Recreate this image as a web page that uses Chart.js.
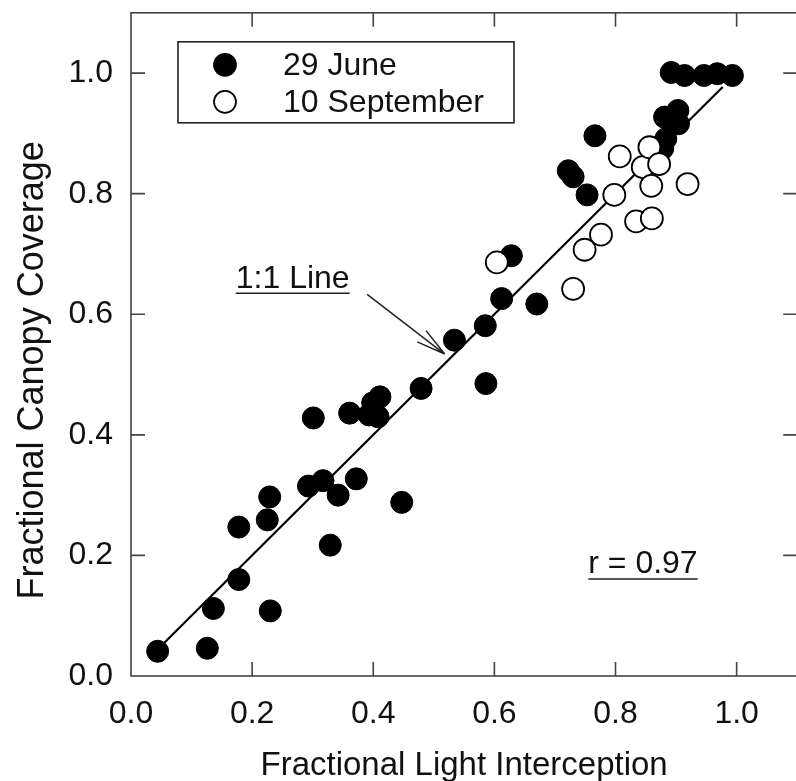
<!DOCTYPE html>
<html>
<head>
<meta charset="utf-8">
<style>
  html, body { margin: 0; padding: 0; background: #fff; overflow: hidden; }
  #wrap { width: 810px; height: 781px; }
</style>
<script src="https://cdn.jsdelivr.net/npm/chart.js@4/dist/chart.umd.min.js"></script>
</head>
<body>
<div id="wrap"><canvas id="chart" width="810" height="781"></canvas></div>
<script>
/* ===== Data ===== */
const juneX = [0.044, 0.126, 0.136, 0.230, 0.178, 0.178, 0.225, 0.229, 0.329, 0.293,
               0.317, 0.342, 0.372, 0.447, 0.301, 0.361, 0.393, 0.411, 0.399, 0.408,
               0.479, 0.586, 0.534, 0.585, 0.612, 0.670, 0.628, 0.722, 0.730, 0.753,
               0.766, 0.903, 0.881, 0.904, 0.883, 0.878, 0.892, 0.914, 0.946, 0.968, 0.993];
const juneY = [0.041, 0.046, 0.112, 0.108, 0.160, 0.247, 0.259, 0.297, 0.217, 0.315,
               0.324, 0.300, 0.327, 0.288, 0.428, 0.436, 0.433, 0.463, 0.453, 0.430,
               0.477, 0.485, 0.557, 0.581, 0.626, 0.617, 0.697, 0.838, 0.828, 0.798,
               0.896, 0.938, 0.927, 0.916, 0.891, 0.875, 1.001, 0.996, 0.996, 0.999, 0.996];

const septX = [0.604, 0.730, 0.749, 0.776, 0.798, 0.807, 0.834, 0.860, 0.845, 0.856, 0.872, 0.859, 0.919];
const septY = [0.686, 0.642, 0.707, 0.732, 0.798, 0.862, 0.754, 0.759, 0.844, 0.877, 0.849, 0.813, 0.816];

const lineX = [0.055, 0.977];   // 1:1 line ends
const tickVals = [0.0, 0.2, 0.4, 0.6, 0.8, 1.0];
const seriesNames = ['29 June', '10 September'];
const xTitle = 'Fractional Light Interception';
const yTitle = 'Fractional Canopy Coverage';

const FONT = "'Liberation Sans', Arial, sans-serif";
const INK = '#111';
const FRAME = '#444';

const toPts = (xs, ys) => xs.map((x, i) => ({ x, y: ys[i] }));

/* ===== Frame, inward ticks, legend, y title and notes ===== */
const decor = {
  id: 'decor',
  afterDatasetsDraw(chart) {
    const { ctx, chartArea: a, scales: { x, y } } = chart;
    ctx.save();

    // frame + ticks on all four sides, pointing inward
    ctx.strokeStyle = FRAME;
    ctx.lineWidth = 1.6;
    ctx.strokeRect(a.left, a.top, a.right - a.left, a.bottom - a.top);
    const tl = 14;
    ctx.beginPath();
    tickVals.forEach(v => {
      if (v === 0) return;
      const px = x.getPixelForValue(v);
      ctx.moveTo(px, a.bottom); ctx.lineTo(px, a.bottom - tl);
      ctx.moveTo(px, a.top); ctx.lineTo(px, a.top + tl);
      const py = y.getPixelForValue(v);
      ctx.moveTo(a.left, py); ctx.lineTo(a.left + tl, py);
      ctx.moveTo(a.right, py); ctx.lineTo(a.right - tl, py);
    });
    ctx.stroke();

    // legend
    const bx = a.left + 47, by = a.top + 29, bw = 336, bh = 81;
    ctx.strokeStyle = '#222';
    ctx.lineWidth = 1.6;
    ctx.strokeRect(bx, by, bw, bh);
    ctx.font = '32px ' + FONT;
    ctx.textBaseline = 'middle';
    ctx.textAlign = 'left';
    const rows = [by + 23, by + 60];
    chart.data.datasets.slice(0, 2).forEach((ds, i) => {
      ctx.beginPath();
      ctx.arc(bx + 47, rows[i], 11, 0, Math.PI * 2);
      ctx.fillStyle = ds.backgroundColor;
      ctx.fill();
      ctx.lineWidth = 1.8;
      ctx.strokeStyle = '#000';
      ctx.stroke();
      ctx.fillStyle = INK;
      ctx.fillText(seriesNames[i], bx + 105, rows[i] + 1);
    });

    // "1:1 Line" with arrow
    ctx.textBaseline = 'alphabetic';
    const lx = x.getPixelForValue(0.173), ly = y.getPixelForValue(0.643);
    ctx.fillText('1:1 Line', lx, ly);
    const lw = ctx.measureText('1:1 Line').width;
    ctx.lineWidth = 1.5;
    ctx.strokeStyle = '#222';
    ctx.beginPath();
    ctx.moveTo(lx, ly + 5); ctx.lineTo(lx + lw, ly + 5);
    ctx.stroke();

    const x0 = x.getPixelForValue(0.390), y0 = y.getPixelForValue(0.633);
    const x1 = x.getPixelForValue(0.518), y1 = y.getPixelForValue(0.534);
    const ang = Math.atan2(y1 - y0, x1 - x0);
    ctx.beginPath();
    ctx.moveTo(x0, y0); ctx.lineTo(x1, y1);
    [-0.24, 0.24].forEach(d => {
      ctx.moveTo(x1, y1);
      ctx.lineTo(x1 - 30 * Math.cos(ang + d), y1 - 30 * Math.sin(ang + d));
    });
    ctx.stroke();

    // r value
    const rx = x.getPixelForValue(0.755), ry = y.getPixelForValue(0.171);
    ctx.fillText('r = 0.97', rx, ry);
    const rw = ctx.measureText('r = 0.97').width;
    ctx.beginPath();
    ctx.moveTo(rx, ry + 6); ctx.lineTo(rx + rw, ry + 6);
    ctx.stroke();

    // y axis title (sits a little below the plot centre in the original)
    ctx.translate(33, (a.top + a.bottom) / 2 + 26);
    ctx.rotate(-Math.PI / 2);
    ctx.font = '36px ' + FONT;
    ctx.textAlign = 'center';
    ctx.textBaseline = 'middle';
    ctx.fillStyle = INK;
    ctx.fillText(yTitle, 0, 0);

    ctx.restore();
  }
};

new Chart(document.getElementById('chart'), {
  type: 'scatter',
  data: {
    datasets: [
      {
        label: seriesNames[0],
        data: toPts(juneX, juneY),
        backgroundColor: '#000',
        borderColor: '#000',
        borderWidth: 1,
        pointRadius: 11,
        order: 2
      },
      {
        label: seriesNames[1],
        data: toPts(septX, septY),
        backgroundColor: '#fff',
        borderColor: '#000',
        borderWidth: 1.8,
        pointRadius: 11,
        order: 1
      },
      {
        label: '1:1',
        data: toPts(lineX, lineX),
        showLine: true,
        borderColor: '#000',
        borderWidth: 2.2,
        pointRadius: 0,
        order: 3
      }
    ]
  },
  options: {
    responsive: false,
    animation: false,
    devicePixelRatio: 1,
    layout: { padding: { top: 11, right: 10, left: 0, bottom: 0 } },
    plugins: { legend: { display: false }, tooltip: { enabled: false } },
    scales: {
      x: {
        type: 'linear',
        min: 0, max: 1.1,
        afterBuildTicks: s => { s.ticks = tickVals.map(v => ({ value: v })); },
        afterFit: s => { s.height = 105; s.paddingLeft = 0; s.paddingRight = 0; },
        grid: { display: false, drawTicks: false },
        border: { display: false },
        ticks: {
          padding: 19,
          color: INK,
          font: { family: FONT, size: 32 },
          callback: v => v.toFixed(1),
          maxRotation: 0
        },
        title: {
          display: true,
          text: xTitle,
          color: INK,
          font: { family: FONT, size: 33 },
          padding: { top: 0, bottom: -5 }
        }
      },
      y: {
        type: 'linear',
        min: 0, max: 1.1,
        afterBuildTicks: s => { s.ticks = tickVals.map(v => ({ value: v })); },
        afterFit: s => { s.width = 131; s.paddingTop = 0; s.paddingBottom = 0; },
        grid: { display: false, drawTicks: false },
        border: { display: false },
        ticks: {
          padding: 18,
          color: INK,
          font: { family: FONT, size: 32 },
          callback: v => v.toFixed(1)
        },
        title: { display: false }
      }
    }
  },
  plugins: [decor]
});
</script>
</body>
</html>
